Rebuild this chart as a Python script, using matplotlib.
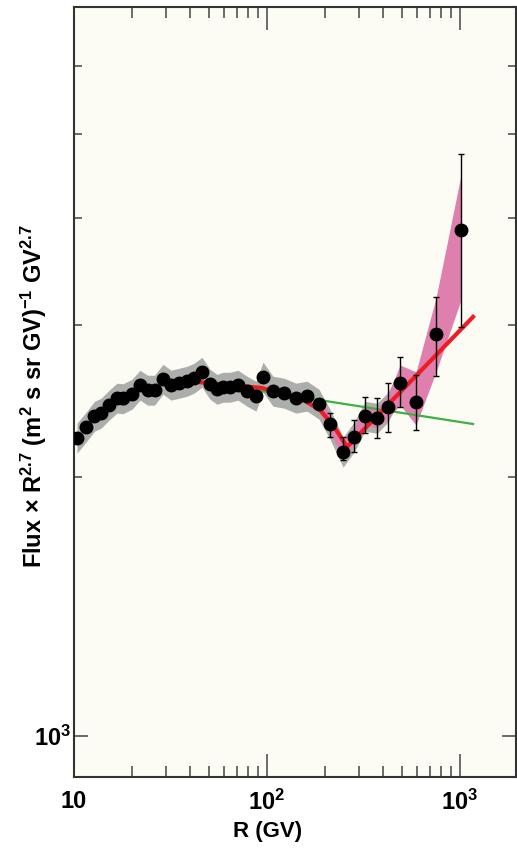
import numpy as np
import matplotlib
matplotlib.use("Agg")
import matplotlib.pyplot as plt

# Rigidity (GV) and flux x R^2.7
rig = [10.36, 11.54, 12.77, 13.80, 15.18, 16.70, 17.94, 19.98, 21.98, 24.04,
       26.13, 28.92, 31.81, 34.99, 38.50, 41.85, 46.05, 50.66, 55.07, 59.16,
       64.33, 70.73, 78.77, 87.70, 95.35, 107.4, 122.5, 141.3, 161.2, 186.0,
       212.1, 247.7, 282.4, 322.0, 371.5, 423.6, 488.9, 591.6, 750.8, 1012]
flux = [2219, 2285, 2353, 2372, 2423, 2470, 2466, 2496, 2557, 2523,
        2523, 2598, 2557, 2570, 2584, 2605, 2647, 2563, 2529, 2543,
        2543, 2557, 2516, 2483, 2612, 2516, 2503, 2470, 2483, 2430,
        2303, 2138, 2225, 2353, 2340, 2411, 2570, 2443, 2930, 3870]
# error bar ends (absolute), early bins are hidden behind the markers
err_hi = [2250, 2317, 2386, 2405, 2457, 2505, 2501, 2531, 2593, 2558,
          2558, 2634, 2593, 2606, 2620, 2641, 2684, 2599, 2564, 2578,
          2578, 2593, 2551, 2518, 2648, 2551, 2538, 2505, 2518, 2464,
          2372, 2225, 2328, 2477, 2470, 2570, 2756, 2626, 3236, 4742]
err_lo = [2188, 2253, 2320, 2339, 2389, 2435, 2431, 2461, 2521, 2488,
          2488, 2562, 2521, 2534, 2548, 2569, 2610, 2527, 2494, 2508,
          2508, 2521, 2481, 2448, 2576, 2481, 2468, 2435, 2448, 2396,
          2225, 2093, 2138, 2249, 2219, 2255, 2411, 2267, 2619, 2985]
n_gray = 37   # systematic (gray) band covers the first 37 bins
sys_frac = 0.04

# pink band at high rigidity
pink_R = [186.0, 212.1, 247.7, 282.4, 322.0, 371.5, 423.6, 488.9, 591.6, 750.8, 1012]
pink_hi = [2470, 2366, 2207, 2279, 2423, 2404, 2489, 2697, 2647, 3227, 4483]
pink_lo = [2378, 2255, 2103, 2178, 2297, 2279, 2340, 2423, 2297, 2647, 3210]

# red broken fit and green single power law
red_R = [43.4, 64.3, 94.2, 124.0, 157.4, 188.2, 219.8, 259.8, 1168]
red_F = [2577, 2557, 2536, 2489, 2449, 2391, 2297, 2166, 3067]
green_R = [45, 1168]
green_F = [2581, 2303]

plt.rcParams['font.family'] = ['Liberation Sans Narrow', 'Liberation Sans', 'DejaVu Sans']
plt.rcParams['font.weight'] = 'bold'
plt.rcParams['mathtext.default'] = 'regular'

fig = plt.figure(figsize=(5.17, 8.51), dpi=100)
ax = fig.add_axes([74 / 517, 74 / 851, 442 / 517, 770 / 851])
ax.set_facecolor('#fcfcf4')

rig = np.array(rig)
flux = np.array(flux)

ax.fill_between(rig[:n_gray], flux[:n_gray] * (1 - sys_frac), flux[:n_gray] * (1 + sys_frac),
                color='#acaeac', lw=0, zorder=1)
ax.fill_between(pink_R, pink_lo, pink_hi, color='#de7fae', lw=0, zorder=2)

ax.plot(green_R, green_F, color='#3cb043', lw=1.6, zorder=3)
ax.plot(red_R, red_F, color='#ee1c25', lw=3, zorder=4)

yerr = [flux - np.array(err_lo), np.array(err_hi) - flux]
ax.errorbar(rig, flux, yerr=yerr, fmt='o', color='black', ms=9, elinewidth=1.0,
            capsize=2.5, capthick=1.0, zorder=5)

ax.set_xscale('log')
ax.set_yscale('log')
ax.set_xlim(10, 1950)
ax.set_ylim(896, 7025)

ax.set_xticks([10, 100, 1000], ['10', '10$^2$', '10$^3$'])
ax.set_xticks([20, 30, 40, 50, 60, 70, 80, 90, 200, 300, 400, 500, 600, 700, 800, 900],
              minor=True)
ax.set_xticklabels([], minor=True)
ax.set_yticks([1000], ['10$^3$'])
ax.set_yticks([2000, 3000, 4000, 5000, 6000], minor=True)
ax.set_yticklabels([], minor=True)

ax.tick_params(which='both', direction='in', top=True, right=True, color='#444444',
               width=1.1, labelsize=17)
ax.tick_params(axis='x', which='major', length=16.5, pad=9)
ax.tick_params(axis='x', which='minor', length=8)
ax.tick_params(axis='y', which='major', length=10, pad=2)
ax.tick_params(axis='y', which='minor', length=6)
for s in ax.spines.values():
    s.set_linewidth(1.5)
    s.set_color('#333333')

ax.set_xlabel('R (GV)', fontsize=16, fontweight='bold')
ax.xaxis.set_label_coords(0.439, -0.057)
ax.set_ylabel('Flux \u00d7 R$^{2.7}$ (m$^2$ s sr GV)$^{-1}$ GV$^{2.7}$',
              fontsize=17, fontweight='bold')
ax.yaxis.set_label_coords(-0.056, 0.495)

fig.savefig('out.png', dpi=100)
